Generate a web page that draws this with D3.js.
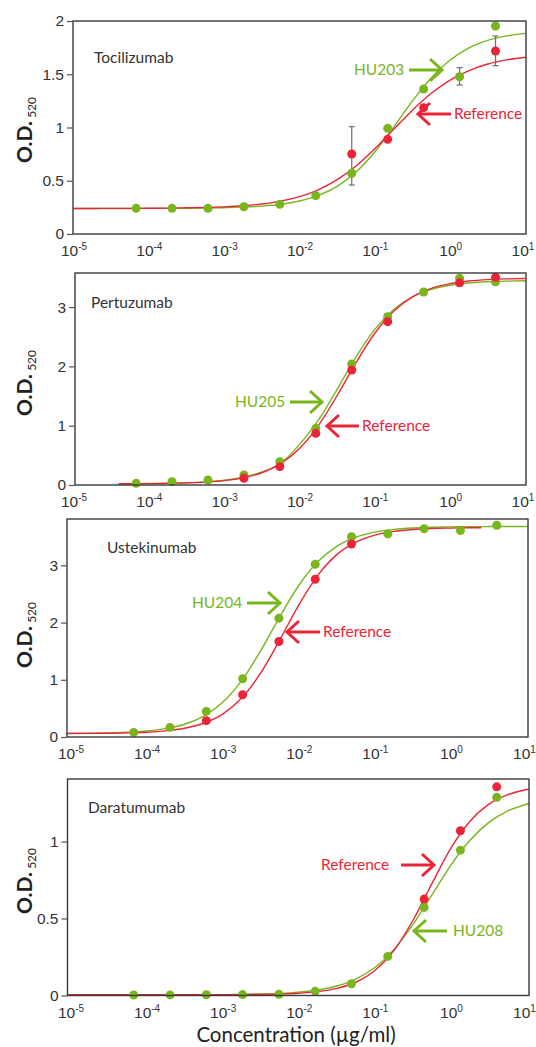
<!DOCTYPE html>
<html>
<head>
<meta charset="utf-8">
<script src="https://cdn.jsdelivr.net/npm/d3@7"></script>
<style>
  body { margin: 0; background: #fff; }
  svg { display: block; font-family: Lato, 'Open Sans', sans-serif; }
</style>
</head>
<body>
<svg id="chart" width="536" height="1047"></svg>
<script>
// ---- data ----
// 3-fold dilution series, µg/ml (highest first)
const concentrations = [4, 1.333, 0.4444, 0.1481, 0.04938, 0.01646, 0.005487, 0.001829, 0.0006097, 0.0002032, 0.00006774];

const xTickValues = [1e-5, 1e-4, 1e-3, 1e-2, 1e-1, 1, 10];
const xTickExponents = ['-5', '-4', '-3', '-2', '-1', '0', '1'];

const antibodies = ['Tocilizumab', 'Pertuzumab', 'Ustekinumab', 'Daratumumab'];
const candidates = ['HU203', 'HU205', 'HU204', 'HU208'];

// y ticks per panel
const tociYTicks = [0, 0.5, 1, 1.5, 2];
const pertYTicks = [0, 1, 2, 3];
const usteYTicks = [0, 1, 2, 3];
const daraYTicks = [0, 0.5, 1];

// measured points (null = hidden behind the other series)
const tociHU  = [1.953, 1.477, 1.362, 0.992, 0.57, 0.36, 0.279, 0.256, 0.241, 0.241, 0.241];
const tociRef = [1.718, null, 1.186, 0.889, 0.751, null, null, null, null, null, null];
const tociErrLow  = [1.58, 1.399, null, null, 0.46, null, null, null, null, null, null];
const tociErrHigh = [1.859, 1.562, null, null, 1.008, null, null, null, null, null, null];

const pertHU  = [3.428, 3.485, 3.255, 2.838, 2.04, 0.955, 0.393, 0.169, 0.084, 0.056, 0.028];
const pertRef = [3.502, 3.41, null, 2.754, 1.939, 0.871, 0.309, 0.113, null, null, null];

const usteHU  = [3.70, 3.61, 3.64, 3.55, 3.50, 3.02, 2.077, 1.018, 0.447, 0.168, 0.08];
const usteRef = [null, null, null, null, 3.373, 2.757, 1.669, 0.738, 0.285, null, null];

const daraHU  = [1.287, 0.944, 0.572, 0.254, 0.076, 0.028, 0.008, 0.006, 0.005, 0.004, 0.003];
const daraRef = [1.355, 1.07, 0.626, null, null, null, null, null, null, null, null];

// fitted curves, read at log10(concentration) positions
const tociCurveLog = [-5, -4.75, -4.5, -4.25, -4, -3.75, -3.5, -3.25, -3, -2.75, -2.5, -2.25, -2, -1.75, -1.5, -1.25, -1, -0.75, -0.5, -0.25, 0, 0.25, 0.5, 0.75, 1];
const tociCurveHU  = [0.240, 0.240, 0.240, 0.240, 0.241, 0.241, 0.242, 0.244, 0.247, 0.252, 0.262, 0.279, 0.310, 0.362, 0.448, 0.582, 0.770, 1.004, 1.250, 1.468, 1.634, 1.748, 1.818, 1.860, 1.884];
const tociCurveRef = [0.240, 0.240, 0.241, 0.241, 0.242, 0.243, 0.246, 0.249, 0.255, 0.265, 0.282, 0.309, 0.351, 0.415, 0.510, 0.639, 0.801, 0.983, 1.163, 1.321, 1.445, 1.535, 1.596, 1.635, 1.660];

const pertCurveLog = [-4.4, -4.25, -4, -3.75, -3.5, -3.25, -3, -2.75, -2.5, -2.25, -2, -1.75, -1.5, -1.25, -1, -0.75, -0.5, -0.25, 0, 0.25, 0.5, 0.75, 1];
const pertCurveHU  = [0.022, 0.022, 0.025, 0.029, 0.037, 0.052, 0.080, 0.130, 0.219, 0.366, 0.681, 1.093, 1.614, 2.158, 2.624, 2.960, 3.174, 3.299, 3.369, 3.407, 3.427, 3.438, 3.444];
const pertCurveRef = [0.021, 0.022, 0.024, 0.028, 0.035, 0.048, 0.074, 0.121, 0.207, 0.360, 0.615, 1.002, 1.509, 2.063, 2.559, 2.930, 3.172, 3.315, 3.396, 3.440, 3.464, 3.476, 3.483];

const usteCurveLog = [-5.1, -4.75, -4.5, -4.25, -4, -3.75, -3.5, -3.25, -3, -2.75, -2.5, -2.25, -2, -1.75, -1.5, -1.25, -1, -0.75, -0.5, -0.25, 0, 0.25, 0.4, 0.5, 0.75, 1, 1.05];
const usteCurveHU  = [0.062, 0.066, 0.072, 0.083, 0.105, 0.146, 0.223, 0.364, 0.606, 0.986, 1.508, 2.101, 2.648, 3.062, 3.332, 3.492, 3.580, 3.628, 3.653, 3.666, 3.673, 3.676, 3.677, 3.678, 3.679, 3.680, 3.680];
const usteCurveRef = [0.061, 0.063, 0.066, 0.072, 0.084, 0.107, 0.152, 0.240, 0.401, 0.682, 1.119, 1.695, 2.306, 2.825, 3.187, 3.406, 3.528, 3.593, 3.626, 3.643, 3.651, 3.656, 3.657, null, null, null, null];

const daraCurveLog = [-5.1, -4.75, -4.5, -4.25, -4, -3.75, -3.5, -3.25, -3, -2.75, -2.5, -2.25, -2, -1.75, -1.5, -1.25, -1, -0.75, -0.5, -0.25, 0, 0.25, 0.5, 0.75, 1, 1.05];
const daraCurveHU  = [0.005, 0.005, 0.005, 0.005, 0.005, 0.005, 0.005, 0.006, 0.006, 0.008, 0.010, 0.014, 0.022, 0.036, 0.062, 0.107, 0.182, 0.298, 0.460, 0.653, 0.847, 1.008, 1.124, 1.199, 1.243, 1.250];
const daraCurveRef = [0.005, 0.005, 0.005, 0.005, 0.005, 0.005, 0.005, 0.005, 0.006, 0.006, 0.007, 0.010, 0.015, 0.025, 0.046, 0.086, 0.162, 0.292, 0.487, 0.727, 0.957, 1.132, 1.243, 1.305, 1.338, 1.342];

// ---- layout / style ----
const GREEN = '#79b51c';
const RED = '#ec2438';
const svg = d3.select('#chart');

const panels = [
  { left: 73, right: 526, top: 21, bottom: 234, xr: [73.5, 525.5], ymax: 2, yTicks: tociYTicks,
    hu: tociHU, ref: tociRef, errLow: tociErrLow, errHigh: tociErrHigh,
    cLog: tociCurveLog, cHU: tociCurveHU, cRef: tociCurveRef,
    nameXY: [94, 58], titleY: 130,
    huLabel: { tx: 354, ty: 70, a1: 409, a2: 442 },
    refLabel: { tx: 454, ty: 114, a1: 451, a2: 418 } },
  { left: 75, right: 526, top: 273, bottom: 485, xr: [73.5, 525.5], ymax: 3.575, yTicks: pertYTicks,
    hu: pertHU, ref: pertRef, cLog: pertCurveLog, cHU: pertCurveHU, cRef: pertCurveRef,
    nameXY: [91, 303], titleY: 383,
    huLabel: { tx: 235, ty: 402, a1: 290, a2: 322 },
    refLabel: { tx: 362, ty: 426, a1: 359, a2: 327 } },
  { left: 67, right: 528, top: 519, bottom: 737, xr: [70.5, 527], ymax: 3.81, yTicks: usteYTicks,
    hu: usteHU, ref: usteRef, cLog: usteCurveLog, cHU: usteCurveHU, cRef: usteCurveRef,
    nameXY: [107, 548], titleY: 635,
    huLabel: { tx: 192, ty: 603, a1: 247, a2: 280 },
    refLabel: { tx: 323, ty: 632, a1: 320, a2: 287 } },
  { left: 67.5, right: 529, top: 779, bottom: 995.5, xr: [70.5, 527], ymax: 1.406, yTicks: daraYTicks,
    hu: daraHU, ref: daraRef, cLog: daraCurveLog, cHU: daraCurveHU, cRef: daraCurveRef,
    nameXY: [88, 808], titleY: 881,
    huLabel: { tx: 453, ty: 931, a1: 447, a2: 414 },
    refLabel: { tx: 321, ty: 865, a1: 401, a2: 434 } }
];

function drawArrow(g, x1, x2, y, color) {
  const dir = x2 > x1 ? 1 : -1;
  g.append('line').attr('x1', x1).attr('x2', x2 - dir * 1).attr('y1', y).attr('y2', y)
    .attr('stroke', color).attr('stroke-width', 3);
  g.append('path')
    .attr('d', `M${x2 - dir * 12},${y - 11}L${x2},${y}L${x2 - dir * 12},${y + 11}`)
    .attr('fill', 'none').attr('stroke', color).attr('stroke-width', 3);
}

panels.forEach((p, i) => {
  const g = svg.append('g');
  const x = d3.scaleLog().domain([1e-5, 10]).range(p.xr);
  const y = d3.scaleLinear().domain([0, p.ymax]).range([p.bottom, p.top]);

  const clipId = 'clip' + i;
  g.append('clipPath').attr('id', clipId).append('rect')
    .attr('x', p.left).attr('y', p.top).attr('width', p.right - p.left).attr('height', p.bottom - p.top);

  // curves
  const line = d3.line()
    .defined(d => d[1] != null)
    .x(d => x(Math.pow(10, d[0])))
    .y(d => y(d[1]))
    .curve(d3.curveMonotoneX);
  const plot = g.append('g').attr('clip-path', `url(#${clipId})`);
  [[p.cHU, GREEN], [p.cRef, RED]].forEach(([vals, color]) => {
    plot.append('path')
      .datum(p.cLog.map((l, k) => [l, vals[k]]))
      .attr('d', line)
      .attr('fill', 'none').attr('stroke', color).attr('stroke-width', 1.4);
  });

  // error bars
  if (p.errLow) {
    const eb = g.append('g').attr('stroke', '#6e6e6e').attr('stroke-width', 1.2);
    concentrations.forEach((c, k) => {
      if (p.errLow[k] == null) return;
      const cx = x(c);
      eb.append('line').attr('x1', cx).attr('x2', cx).attr('y1', y(p.errLow[k])).attr('y2', y(p.errHigh[k]));
      [p.errLow[k], p.errHigh[k]].forEach(v => {
        eb.append('line').attr('x1', cx - 3).attr('x2', cx + 3).attr('y1', y(v)).attr('y2', y(v));
      });
    });
  }

  // points
  [[p.hu, GREEN], [p.ref, RED]].forEach(([vals, color]) => {
    g.append('g').selectAll('circle')
      .data(concentrations.map((c, k) => [c, vals[k]]).filter(d => d[1] != null))
      .join('circle')
      .attr('cx', d => x(d[0])).attr('cy', d => y(d[1])).attr('r', 4.5)
      .attr('fill', color);
  });

  // frame
  g.append('rect')
    .attr('x', p.left).attr('y', p.top).attr('width', p.right - p.left).attr('height', p.bottom - p.top)
    .attr('fill', 'none').attr('stroke', '#3a3a3a').attr('stroke-width', 1.4);

  // y axis
  const yAxis = g.append('g').attr('transform', `translate(${p.left},0)`)
    .call(d3.axisLeft(y).tickValues(p.yTicks).tickSize(6).tickPadding(3).tickFormat(d3.format('~g')));
  yAxis.select('.domain').remove();
  yAxis.selectAll('.tick line').attr('stroke', '#555').attr('stroke-width', 1.2);
  yAxis.selectAll('.tick text').attr('fill', '#333').style('font-size', '15.5px');

  // x axis
  const xAxis = g.append('g').attr('transform', `translate(0,${p.bottom})`)
    .call(d3.axisBottom(x).tickValues(xTickValues).tickSize(0).tickFormat(() => ''));
  xAxis.select('.domain').remove();
  xAxis.selectAll('.tick text')
    .attr('y', 22).attr('dy', 0).attr('fill', '#333').style('font-size', '15.5px')
    .attr('dx', (d, k) => k === xTickValues.length - 1 ? -3 : 0)
    .each(function (d, k) {
      const t = d3.select(this);
      t.append('tspan').text('10');
      t.append('tspan').text(xTickExponents[k]).attr('dy', -6).style('font-size', '10px');
    });

  // y title
  const title = g.append('text')
    .attr('transform', `translate(32,${p.titleY}) rotate(-90)`)
    .attr('text-anchor', 'middle').attr('fill', '#222');
  title.append('tspan').text('O.D.').style('font-size', '21px').style('font-weight', 700);
  title.append('tspan').text(' 520').style('font-size', '12px').attr('dy', 4);

  // antibody name
  g.append('text').attr('x', p.nameXY[0]).attr('y', p.nameXY[1]).attr('dy', '0.35em')
    .attr('fill', '#333').style('font-size', '15.5px').text(antibodies[i]);

  // annotations
  g.append('text').attr('x', p.huLabel.tx).attr('y', p.huLabel.ty).attr('dy', '0.35em')
    .attr('fill', GREEN).style('font-size', '15.5px').text(candidates[i]);
  drawArrow(g, p.huLabel.a1, p.huLabel.a2, p.huLabel.ty, GREEN);
  g.append('text').attr('x', p.refLabel.tx).attr('y', p.refLabel.ty).attr('dy', '0.35em')
    .attr('fill', RED).style('font-size', '15.5px').text('Reference');
  drawArrow(g, p.refLabel.a1, p.refLabel.a2, p.refLabel.ty, RED);
});

// x axis title
svg.append('text').attr('x', 296).attr('y', 1042).attr('text-anchor', 'middle')
  .attr('fill', '#222').style('font-size', '20.5px').text('Concentration (µg/ml)');
</script>
</body>
</html>
